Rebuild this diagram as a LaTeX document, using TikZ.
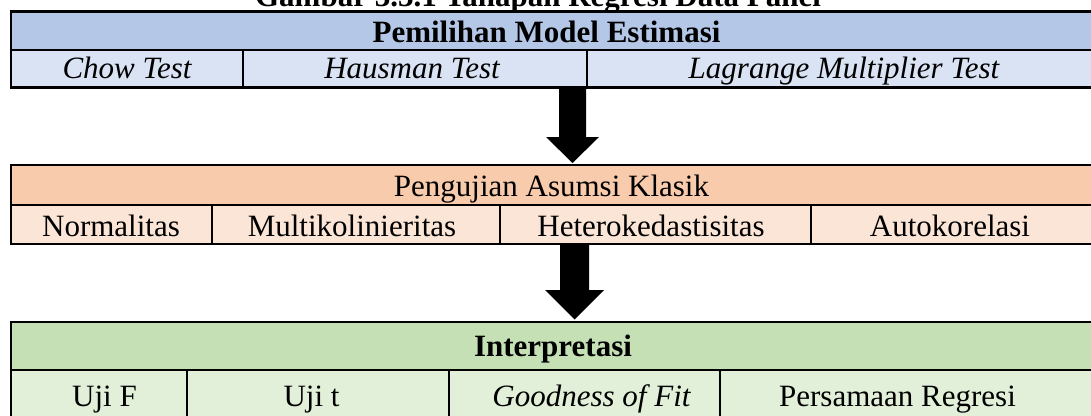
\documentclass[tikz,border=0pt]{standalone}
\usepackage{fontspec}
\setmainfont{Liberation Serif}
\definecolor{hdrA}{HTML}{B4C7E7}
\definecolor{rowA}{HTML}{DAE3F3}
\definecolor{hdrB}{HTML}{F8CBAD}
\definecolor{rowB}{HTML}{FBE5D6}
\definecolor{hdrC}{HTML}{C5E0B4}
\definecolor{rowC}{HTML}{E2F0D9}
\begin{document}
\begin{tikzpicture}[x=1pt,y=-1pt,
  frame/.style={line width=2.7pt,black},
  sep/.style={line width=2.4pt,black},
  txt/.style={anchor=base,inner sep=0pt,font=\fontsize{31}{37}\selectfont},
  blockarrow/.style={fill=black}]
\useasboundingbox (0,0) rectangle (1091,415);
\clip (0,0) rectangle (1091,415);
% title (cut off at top)
\node[txt,font=\fontsize{31}{37}\selectfont\bfseries] (title) at (538,6) {Gambar 3.3.1 Tahapan Regresi Data Panel};
% table 1
\fill[hdrA] (11,11.5) rectangle (1102,50);
\fill[rowA] (11,50) rectangle (1102,87.5);
\draw[sep] (11,50) -- (1102,50);
\draw[sep] (243,50) -- (243,87.5);
\draw[sep] (587,50) -- (587,87.5);
\draw[frame] (11,11.5) rectangle (1102,87.5);
\node[txt,font=\fontsize{31}{37}\selectfont\bfseries] (pme) at (546.5,42.7) {Pemilihan Model Estimasi};
\node[txt,font=\fontsize{31}{37}\selectfont\itshape] (chow) at (127,78.3) {Chow Test};
\node[txt,font=\fontsize{31}{37}\selectfont\itshape] (haus) at (412,78.3) {Hausman Test};
\node[txt,font=\fontsize{31}{37}\selectfont\itshape] (lm) at (844,78.3) {Lagrange Multiplier Test};
% arrow 1
\coordinate (a1s) at (572.5,87.5);
\coordinate (a1e) at (572.5,163);
\fill[blockarrow] ([xshift=-13.5pt]a1s) -- ([xshift=13.5pt]a1s) -- ([xshift=13.5pt]a1s |- 0,137) -- (599,137) -- (a1e) -- (546,137) -- ([xshift=-13.5pt]a1s |- 0,137) -- cycle;
% table 2
\fill[hdrB] (11,165) rectangle (1102,205);
\fill[rowB] (11,205) rectangle (1102,244);
\draw[sep] (11,205) -- (1102,205);
\draw[sep] (212,205) -- (212,244);
\draw[sep] (500,205) -- (500,244);
\draw[sep] (811,205) -- (811,244);
\draw[frame] (11,165) rectangle (1102,244);
\node[txt] (pak) at (551.5,196.7) {Pengujian Asumsi Klasik};
\node[txt] (norm) at (111,236) {Normalitas};
\node[txt] (multi) at (352,236) {Multikolinieritas};
\node[txt] (hetero) at (651,236) {Heterokedastisitas};
\node[txt] (auto) at (950,236) {Autokorelasi};
% arrow 2
\coordinate (a2s) at (574.5,244);
\coordinate (a2e) at (574.5,319.5);
\fill[blockarrow] ([xshift=-14.5pt]a2s) -- ([xshift=14.5pt]a2s) -- ([xshift=14.5pt]a2s |- 0,290) -- (604,290) -- (a2e) -- (545,290) -- ([xshift=-14.5pt]a2s |- 0,290) -- cycle;
% table 3
\fill[hdrC] (11,322) rectangle (1102,370);
\fill[rowC] (11,370) rectangle (1102,420);
\draw[sep] (11,370) -- (1102,370);
\draw[sep] (187,370) -- (187,420);
\draw[sep] (449,370) -- (449,420);
\draw[sep] (720,370) -- (720,420);
\draw[frame] (11,322) rectangle (1102,420);
\node[txt,font=\fontsize{31}{37}\selectfont\bfseries] (interp) at (553,356.7) {Interpretasi};
\node[txt] (ujif) at (104.5,406) {Uji F};
\node[txt] (ujit) at (311.5,406) {Uji t};
\node[txt,font=\fontsize{31}{37}\selectfont\itshape] (gof) at (591.5,406) {Goodness of Fit};
\node[txt] (preg) at (897.5,406) {Persamaan Regresi};
\end{tikzpicture}
\end{document}
